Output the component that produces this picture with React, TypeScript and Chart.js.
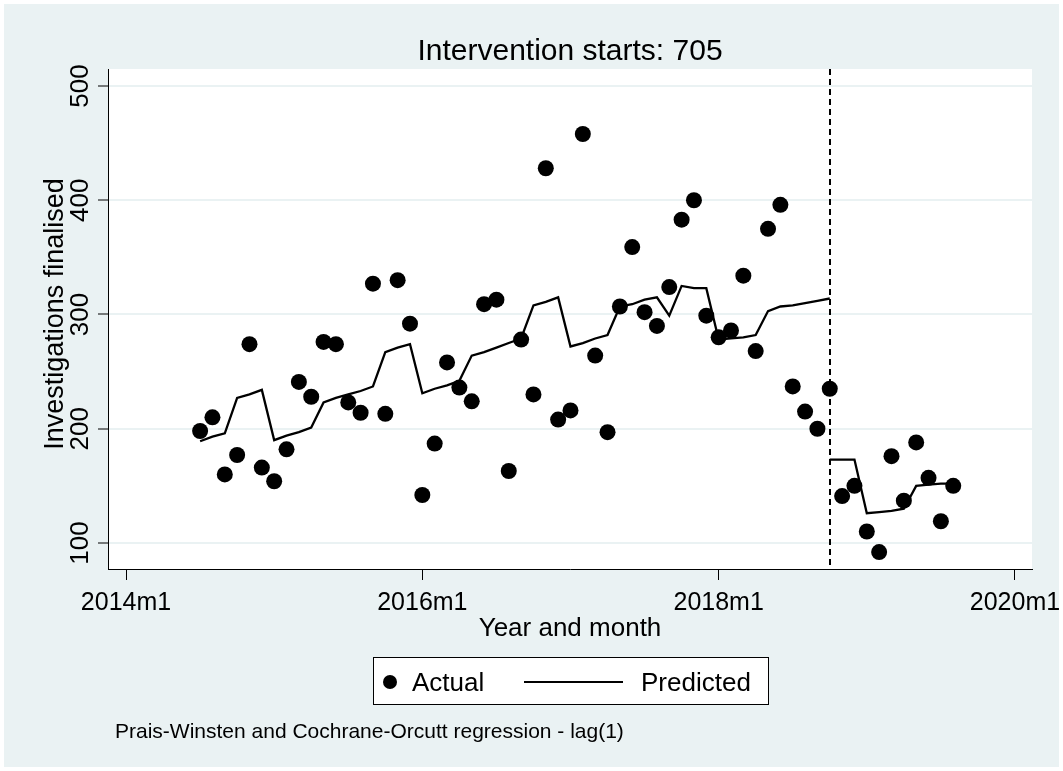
import React, { useEffect, useRef } from "react";
import { Chart, registerables } from "chart.js";

Chart.register(...registerables);

// Stata monthly dates (%tm): 648 = 2014m1
const MONTHS = [
  654, 655, 656, 657, 658, 659, 660, 661, 662, 663, 664, 665, 666, 667, 668, 669,
  670, 671, 672, 673, 674, 675, 676, 677, 678, 679, 680, 681, 682, 683, 684, 685,
  686, 687, 688, 689, 690, 691, 692, 693, 694, 695, 696, 697, 698, 699, 700, 701,
  702, 703, 704, 705, 706, 707, 708, 709, 710, 711, 712, 713, 714, 715,
];

const ACTUAL = [
  198, 210, 160, 177, 274, 166, 154, 182, 241, 228, 276, 274, 223, 214, 327, 213,
  330, 292, 142, 187, 258, 236, 224, 309, 313, 163, 278, 230, 428, 208, 216, 458,
  264, 197, 307, 359, 302, 290, 324, 383, 400, 299, 280, 286, 334, 268, 375, 396,
  237, 215, 200, 235, 141, 150, 110, 92, 176, 137, 188, 157, 119, 150,
];

// Predicted, pre-intervention segment (2014m7 .. 2018m10)
const PRED_PRE_MONTHS = [
  654, 655, 656, 657, 658, 659, 660, 661, 662, 663, 664, 665, 666, 667, 668, 669,
  670, 671, 672, 673, 674, 675, 676, 677, 678, 679, 680, 681, 682, 683, 684, 685,
  686, 687, 688, 689, 690, 691, 692, 693, 694, 695, 696, 697, 698, 699, 700, 701,
  702, 703, 704, 705,
];
const PRED_PRE = [
  189, 193, 196, 227, 230, 234, 190, 194, 197, 201, 223, 227, 230, 233, 237, 267,
  271, 274, 231, 235, 238, 242, 264, 267, 271, 275, 279, 308, 311, 315, 272, 275,
  279, 282, 307, 309, 313, 315, 299, 325, 323, 323, 278, 279, 280, 282, 303, 307,
  308, 310, 312, 314,
];

// Predicted, post-intervention segment (2018m10 .. 2019m8)
const PRED_POST_MONTHS = [705, 706, 707, 708, 709, 710, 711, 712, 713, 714, 715];
const PRED_POST = [173, 173, 173, 126, 127, 128, 130, 150, 151, 152, 152];

const INTERVENTION = 705;

const X_TICKS = [648, 672, 696, 720];
const X_TICK_LABELS = ["2014m1", "2016m1", "2018m1", "2020m1"];
const Y_TICKS = [100, 200, 300, 400, 500];

const TITLE = "Intervention starts: 705";
const X_TITLE = "Year and month";
const Y_TITLE = "Investigations finalised";
const LEGEND_LABELS = ["Actual", "Predicted"];
const NOTE = "Prais-Winsten and Cochrane-Orcutt regression - lag(1)";

const FONT = '"Liberation Sans", Arial, Helvetica, sans-serif';
const BG = "#EAF2F3";

export default function App() {
  const ref = useRef<HTMLCanvasElement | null>(null);

  useEffect(() => {
    const canvas = ref.current;
    if (!canvas) return;

    const decor = {
      id: "decor",
      beforeDraw(chart: any) {
        const { ctx, chartArea } = chart;
        ctx.save();
        ctx.fillStyle = "#ffffff";
        ctx.fillRect(0, 0, chart.width, chart.height);
        ctx.fillStyle = BG;
        ctx.fillRect(4, 4, chart.width - 8, chart.height - 8);
        ctx.fillStyle = "#ffffff";
        ctx.fillRect(
          chartArea.left,
          chartArea.top,
          chartArea.right - chartArea.left,
          chartArea.bottom - chartArea.top
        );
        ctx.restore();
      },
      beforeDatasetsDraw(chart: any) {
        const { ctx, chartArea } = chart;
        const x = Math.round(chart.scales.x.getPixelForValue(INTERVENTION));
        ctx.save();
        ctx.strokeStyle = "#000";
        ctx.lineWidth = 2;
        ctx.setLineDash([6, 4]);
        ctx.beginPath();
        ctx.moveTo(x, chartArea.top);
        ctx.lineTo(x, chartArea.bottom);
        ctx.stroke();
        ctx.restore();
      },
      afterDraw(chart: any) {
        const { ctx, chartArea } = chart;
        const xs = chart.scales.x;
        const ys = chart.scales.y;
        const cx = (chartArea.left + chartArea.right) / 2;
        ctx.save();
        ctx.fillStyle = "#000";

        // title
        ctx.font = `30px ${FONT}`;
        ctx.textAlign = "center";
        ctx.textBaseline = "alphabetic";
        ctx.fillText(TITLE, cx, 60);

        // y tick labels (rotated)
        ctx.font = `26px ${FONT}`;
        Y_TICKS.forEach((v) => {
          const y = ys.getPixelForValue(v);
          ctx.save();
          ctx.translate(88, y);
          ctx.rotate(-Math.PI / 2);
          ctx.textAlign = "center";
          ctx.fillText(String(v), 0, 0);
          ctx.restore();
        });

        // y title
        ctx.save();
        ctx.font = `27px ${FONT}`;
        ctx.translate(63, 314);
        ctx.rotate(-Math.PI / 2);
        ctx.textAlign = "center";
        ctx.fillText(Y_TITLE, 0, 0);
        ctx.restore();

        // x tick labels
        ctx.font = `25px ${FONT}`;
        ctx.textAlign = "center";
        X_TICKS.forEach((v, i) => {
          ctx.fillText(X_TICK_LABELS[i], xs.getPixelForValue(v), 610);
        });

        // x title
        ctx.font = `26px ${FONT}`;
        ctx.fillText(X_TITLE, cx, 636);

        // legend
        ctx.fillStyle = "#fff";
        ctx.fillRect(373, 657, 396, 48);
        ctx.strokeStyle = "#000";
        ctx.lineWidth = 1;
        ctx.strokeRect(373.5, 657.5, 395, 47);
        ctx.fillStyle = "#000";
        ctx.beginPath();
        ctx.arc(390, 682, 7, 0, Math.PI * 2);
        ctx.fill();
        ctx.font = `26px ${FONT}`;
        ctx.textAlign = "left";
        ctx.fillText(LEGEND_LABELS[0], 412, 691);
        ctx.lineWidth = 2;
        ctx.beginPath();
        ctx.moveTo(524, 682);
        ctx.lineTo(623, 682);
        ctx.stroke();
        ctx.fillText(LEGEND_LABELS[1], 641, 691);

        // note
        ctx.font = `21px ${FONT}`;
        ctx.fillText(NOTE, 115, 738);

        ctx.restore();
      },
    };

    const chart = new Chart(canvas, {
      type: "scatter",
      data: {
        datasets: [
          {
            label: LEGEND_LABELS[0],
            data: MONTHS.map((m, i) => ({ x: m, y: ACTUAL[i] })),
            backgroundColor: "#000",
            borderColor: "#000",
            pointRadius: 8,
            pointHoverRadius: 8,
            borderWidth: 0,
            showLine: false,
          },
          {
            label: LEGEND_LABELS[1],
            data: PRED_PRE_MONTHS.map((m, i) => ({ x: m, y: PRED_PRE[i] })),
            borderColor: "#000",
            backgroundColor: "#000",
            borderWidth: 2.3,
            pointRadius: 0,
            pointHoverRadius: 0,
            showLine: true,
            tension: 0,
          },
          {
            label: LEGEND_LABELS[1] + " (post)",
            data: PRED_POST_MONTHS.map((m, i) => ({ x: m, y: PRED_POST[i] })),
            borderColor: "#000",
            backgroundColor: "#000",
            borderWidth: 2.3,
            pointRadius: 0,
            pointHoverRadius: 0,
            showLine: true,
            tension: 0,
          },
        ],
      },
      options: {
        responsive: false,
        animation: false,
        devicePixelRatio: 1,
        events: [],
        layout: {
          autoPadding: false,
          padding: { left: 108, right: 31, top: 69, bottom: 202 },
        },
        plugins: {
          legend: { display: false },
          title: { display: false },
          tooltip: { enabled: false },
        },
        scales: {
          x: {
            type: "linear",
            min: 646.54,
            max: 721.38,
            afterBuildTicks: (s: any) => {
              s.ticks = X_TICKS.map((v) => ({ value: v }));
            },
            afterFit: (s: any) => {
              s.height = 0;
            },
            ticks: { display: false },
            grid: {
              drawOnChartArea: false,
              drawTicks: true,
              tickLength: 11,
              tickColor: "#000",
              tickWidth: 1,
            },
            border: { display: true, color: "#000", width: 1 },
          },
          y: {
            type: "linear",
            min: 77.2,
            max: 514.9,
            afterBuildTicks: (s: any) => {
              s.ticks = Y_TICKS.map((v) => ({ value: v }));
            },
            afterFit: (s: any) => {
              s.width = 0;
            },
            ticks: { display: false },
            grid: {
              color: BG,
              lineWidth: 2,
              drawTicks: true,
              tickLength: 10,
              tickColor: "#000",
              tickWidth: 1,
            },
            border: { display: true, color: "#000", width: 1 },
          },
        },
      },
      plugins: [decor],
    });

    return () => chart.destroy();
  }, []);

  return (
    <div style={{ position: "fixed", left: 0, top: 0, width: 1063, height: 771 }}>
      <canvas ref={ref} width={1063} height={771} style={{ display: "block" }} />
    </div>
  );
}
